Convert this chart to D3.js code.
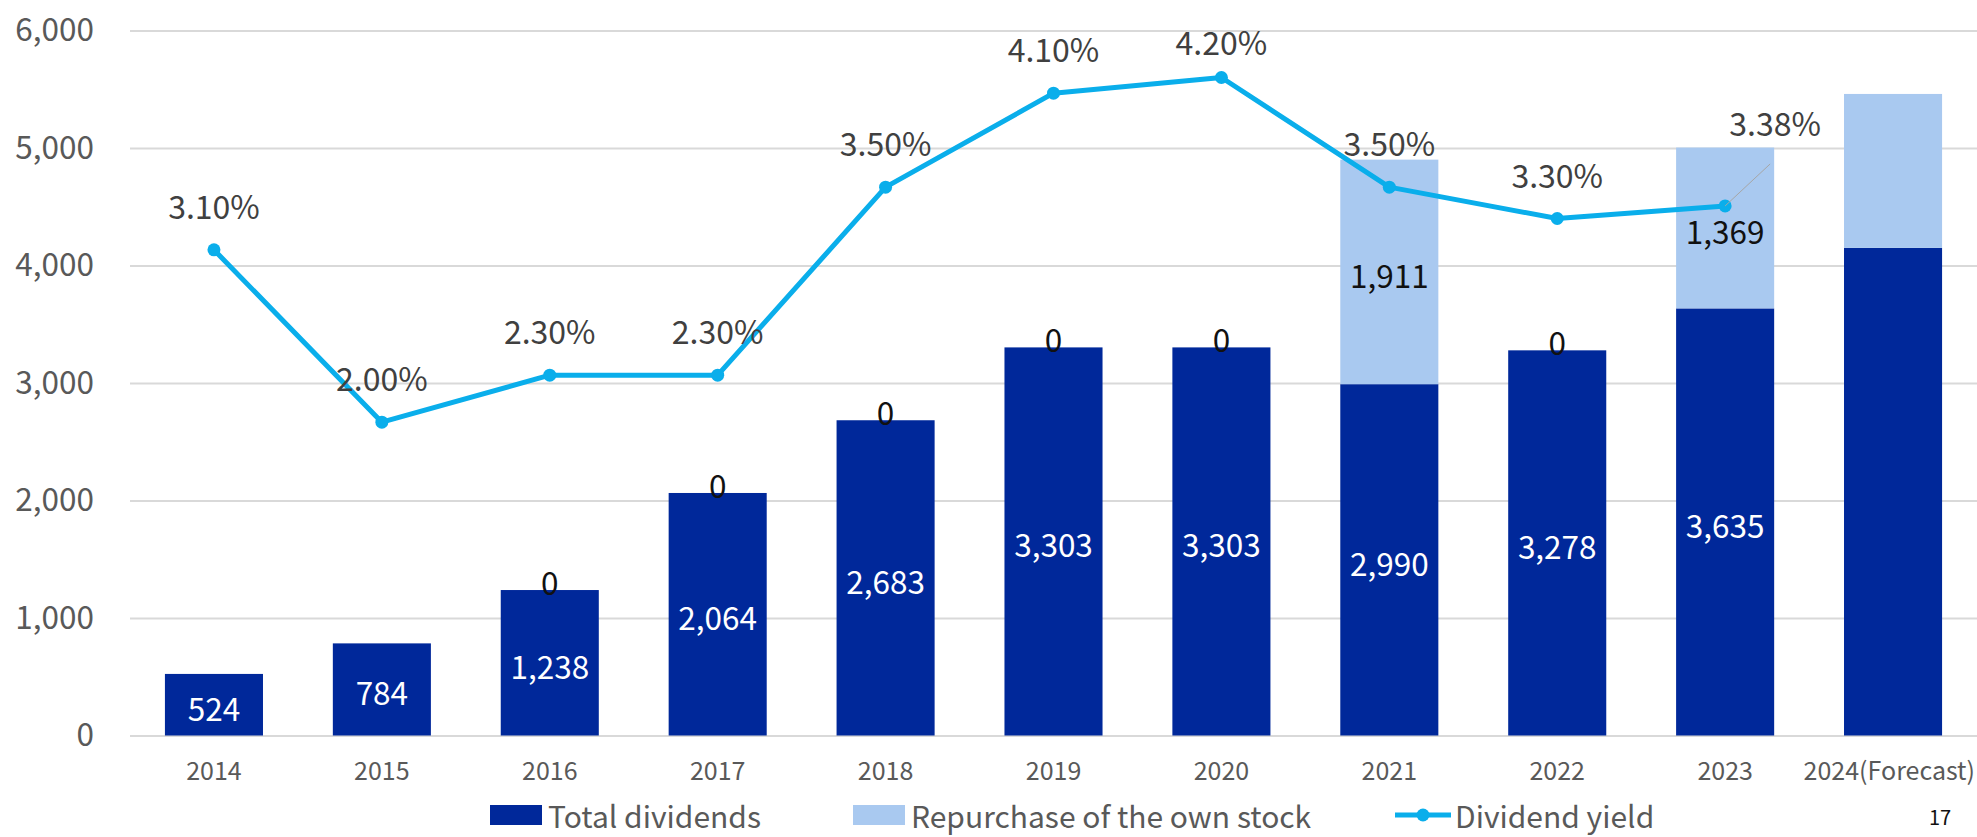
<!DOCTYPE html>
<html>
<head>
<meta charset="utf-8">
<script src="https://cdn.jsdelivr.net/npm/d3@7"></script>
<style>
  html, body { margin: 0; padding: 0; background: #ffffff; }
  svg { display: block; font-family: "Noto Sans CJK JP", "Noto Sans", sans-serif; }
</style>
</head>
<body>
<svg id="chart" width="1977" height="837"></svg>
<script>
// ---- data ----
const categories = ["2014", "2015", "2016", "2017", "2018", "2019", "2020", "2021", "2022", "2023", "2024(Forecast)"];
const totalDividends = [524, 784, 1238, 2064, 2683, 3303, 3303, 2990, 3278, 3635, 4150];
const repurchase = [null, null, 0, 0, 0, 0, 0, 1911, 0, 1369, 1310];
const dividendYield = [3.10, 2.00, 2.30, 2.30, 3.50, 4.10, 4.20, 3.50, 3.30, 3.38, null];
const valueTicks = [0, 1000, 2000, 3000, 4000, 5000, 6000];
const seriesNames = ["Total dividends", "Repurchase of the own stock", "Dividend yield"];
const unlabeledCategories = ["2024(Forecast)"];
const pageNumber = "17";

// ---- layout & style ----
const W = 1977, H = 837;
const plot = { left: 130, right: 1977, top: 30.5, bottom: 735.5 };
const colors = { dividends: "#00289A", repurchase: "#A9C9F0", yield: "#0AAEEB", grid: "#D9D9D9", axisText: "#595959", labelText: "#404040" };
const font = "\"Noto Sans CJK JP\", \"Noto Sans\", sans-serif";

const svg = d3.select("#chart");

const x = d3.scaleBand().domain(categories).range([plot.left, plot.right])
  .paddingInner(0.416).paddingOuter(0.208);
const y = d3.scaleLinear().domain([0, 6000]).range([plot.bottom, plot.top]);
const y2 = d3.scaleLinear().domain([0, 4.5]).range([plot.bottom, plot.top]);
const cx = c => x(c) + x.bandwidth() / 2;

const rows = categories.map((c, i) => ({
  c, div: totalDividends[i], rep: repurchase[i], yld: dividendYield[i],
  labelled: !unlabeledCategories.includes(c)
}));

// gridlines + value axis
const yAxis = svg.append("g")
  .attr("transform", `translate(${plot.left},0)`)
  .call(d3.axisLeft(y).tickValues(valueTicks).tickFormat(d3.format(","))
    .tickSize(-(plot.right - plot.left)).tickPadding(36));
yAxis.select(".domain").remove();
yAxis.selectAll(".tick line").attr("stroke", colors.grid).attr("stroke-width", 2);
yAxis.selectAll(".tick text").attr("fill", colors.axisText)
  .style("font-family", font).style("font-size", "31.5px");

// category axis
const xAxis = svg.append("g")
  .attr("transform", `translate(0,${plot.bottom})`)
  .call(d3.axisBottom(x).tickSize(0).tickPadding(27));
xAxis.select(".domain").remove();
xAxis.selectAll(".tick text").attr("fill", colors.axisText)
  .style("font-family", font).style("font-size", "25px");
// keep the last category label inside the canvas
xAxis.selectAll(".tick text").each(function () {
  const b = this.getBoundingClientRect();
  if (b.right > W - 2) d3.select(this).attr("dx", -(b.right - (W - 2)));
});

// stacked bars
const bars = svg.append("g");
bars.selectAll("rect.div").data(rows).join("rect")
  .attr("class", "div")
  .attr("x", d => x(d.c)).attr("width", x.bandwidth())
  .attr("y", d => y(d.div)).attr("height", d => y(0) - y(d.div))
  .attr("fill", colors.dividends);
bars.selectAll("rect.rep").data(rows.filter(d => d.rep)).join("rect")
  .attr("class", "rep")
  .attr("x", d => x(d.c)).attr("width", x.bandwidth())
  .attr("y", d => y(d.div + d.rep)).attr("height", d => y(d.div) - y(d.div + d.rep))
  .attr("fill", colors.repurchase);

// bar value labels
const fmt = d3.format(",");
const labels = svg.append("g").style("font-family", font).style("font-size", "31.5px")
  .attr("text-anchor", "middle").attr("dominant-baseline", "central");
labels.selectAll("text.divl").data(rows.filter(d => d.labelled)).join("text")
  .attr("class", "divl")
  .attr("x", d => cx(d.c)).attr("y", d => (y(0) + y(d.div)) / 2 + 2)
  .attr("fill", "#ffffff").text(d => fmt(d.div));
labels.selectAll("text.repl").data(rows.filter(d => d.labelled && d.rep != null)).join("text")
  .attr("class", "repl")
  .attr("x", d => cx(d.c))
  .attr("y", d => d.rep === 0 ? y(d.div) - 9 : (y(d.div) + y(d.div + d.rep)) / 2 + 2)
  .attr("fill", "#111111").text(d => fmt(d.rep));

// dividend yield line
const pts = rows.filter(d => d.yld != null);
svg.append("path").datum(pts)
  .attr("fill", "none").attr("stroke", colors.yield).attr("stroke-width", 5)
  .attr("stroke-linejoin", "round")
  .attr("d", d3.line().x(d => cx(d.c)).y(d => y2(d.yld)));
svg.append("g").selectAll("circle").data(pts).join("circle")
  .attr("cx", d => cx(d.c)).attr("cy", d => y2(d.yld)).attr("r", 6.5)
  .attr("fill", colors.yield);

// yield labels (most sit above their point; two are nudged)
const nudge = { "2020": { dx: 0, dy: -37 }, "2023": { dx: 50, dy: -84 } };
const yl = svg.append("g").style("font-family", font).style("font-size", "32px")
  .attr("text-anchor", "middle").attr("dominant-baseline", "central");
pts.forEach(d => {
  const n = nudge[d.c] || { dx: 0, dy: -45 };
  const px = cx(d.c), py = y2(d.yld);
  if (n.dx !== 0) {
    svg.append("line").attr("x1", px).attr("y1", py).attr("x2", px + n.dx - 5).attr("y2", py + n.dy + 42)
      .attr("stroke", "#A6A6A6").attr("stroke-width", 1);
  }
  yl.append("text").attr("x", px + n.dx).attr("y", py + n.dy)
    .attr("fill", colors.labelText).text(d3.format(".2f")(d.yld) + "%");
});

// legend
const legend = svg.append("g").style("font-family", font).style("font-size", "30px");
const legendY = 815;
const items = [
  { x: 490, kind: "rect", color: colors.dividends, name: seriesNames[0] },
  { x: 853, kind: "rect", color: colors.repurchase, name: seriesNames[1] },
  { x: 1395, kind: "line", color: colors.yield, name: seriesNames[2] }
];
items.forEach(it => {
  if (it.kind === "rect") {
    legend.append("rect").attr("x", it.x).attr("y", legendY - 10).attr("width", 52).attr("height", 20).attr("fill", it.color);
  } else {
    legend.append("line").attr("x1", it.x).attr("x2", it.x + 56).attr("y1", legendY).attr("y2", legendY)
      .attr("stroke", it.color).attr("stroke-width", 5);
    legend.append("circle").attr("cx", it.x + 28).attr("cy", legendY).attr("r", 6.5).attr("fill", it.color);
  }
  legend.append("text").attr("x", it.x + (it.kind === "rect" ? 58 : 60)).attr("y", legendY)
    .attr("dominant-baseline", "central").attr("fill", colors.axisText).text(it.name);
});

// page number
svg.append("text").attr("x", 1940).attr("y", 816).attr("text-anchor", "middle")
  .attr("dominant-baseline", "central").style("font-family", font).style("font-size", "20px")
  .attr("fill", "#111111").text(pageNumber);
</script>
</body>
</html>
